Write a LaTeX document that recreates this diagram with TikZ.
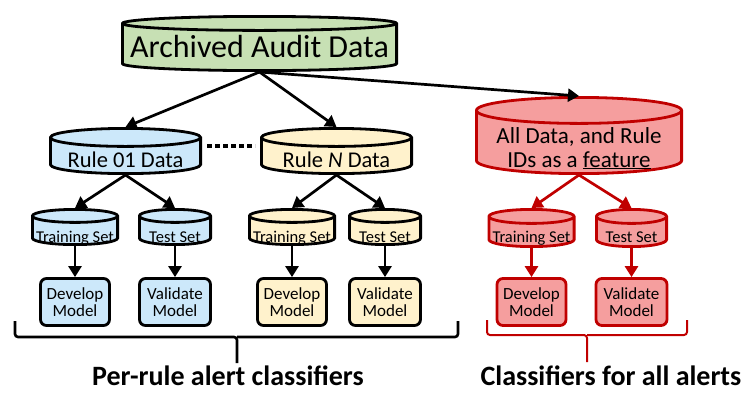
\documentclass[tikz,border=0pt]{standalone}
\usepackage{fontspec}
\setmainfont{Carlito}
\usetikzlibrary{arrows.meta}

\definecolor{greenF}{RGB}{199,224,180}
\definecolor{blueF}{RGB}{204,232,250}
\definecolor{yellowF}{RGB}{255,242,204}
\definecolor{redF}{RGB}{245,158,158}
\definecolor{redD}{RGB}{192,0,0}

% text sunk below the node centre, without changing the node size
\newcommand{\sunk}[2]{\raisebox{-#1}[0pt][0pt]{#2}}

\begin{document}
\begin{tikzpicture}[
        x=1pt, y=-1pt,
        >={Triangle[length=11pt, width=13pt]},
        line width=2.7pt,
        drum/.style n args={5}{rectangle, draw=none, inner sep=0pt, outer sep=0pt, minimum width=#1, minimum height=#2,
            path picture={
                \draw[line width=2.8pt, draw=#5, fill=#4]
                    ([xshift=1.4pt, yshift={-1.4pt-#3}]path picture bounding box.north west)
                    -- ([xshift=1.4pt, yshift={1.4pt+#3}]path picture bounding box.south west)
                    arc[start angle=180, end angle=360, x radius={#1/2-1.4pt}, y radius=#3]
                    -- ([xshift=-1.4pt, yshift={-1.4pt-#3}]path picture bounding box.north east)
                    arc[start angle=0, end angle=180, x radius={#1/2-1.4pt}, y radius=#3]
                    -- cycle
                    ([xshift=1.4pt, yshift={-1.4pt-#3}]path picture bounding box.north west)
                    arc[start angle=180, end angle=360, x radius={#1/2-1.4pt}, y radius=#3];
            }},
        dataset/.style={drum={153pt}{48pt}{9pt}{#1}{black}, font=\fontsize{22.5}{24}\selectfont},
        split/.style={font=\fontsize{16.5}{17}\selectfont},
        model/.style={draw, rounded corners=6pt, line width=2.8pt, align=center, minimum width=69pt, minimum height=47pt, inner sep=1pt, font=\fontsize{17}{17}\selectfont},
        caption/.style={font=\fontsize{28}{30}\selectfont\bfseries},
    ]
        \useasboundingbox (0,0) rectangle (756,416);

        % Draw the archive and the per-rule data
        \node[drum={277pt}{57pt}{7pt}{greenF}{black}, font=\fontsize{32}{34}\selectfont] (archive) at (259.5,43.5) {\sunk{13.5pt}{Archived Audit Data}};
        \node[dataset=blueF] (rule-1) at (125.5,151) {\sunk{16pt}{Rule 01 Data}};
        \node[dataset=yellowF] (rule-N) at (336.5,151) {\sunk{16pt}{Rule \textit{N} Data}};
        \node[drum={208pt}{79pt}{13pt}{redF}{redD}, font=\fontsize{23}{24}\selectfont] (rule-all) at (579,135.5)
            {\sunk{31.5pt}{\parbox[b]{200pt}{\centering All Data, and Rule\\IDs as a \underline{feature}}}};

        \draw[->] (archive.south) -- (rule-1.north);
        \draw[->] (archive.south) -- (rule-N.north);
        \draw[->] (archive.south) -- (rule-all.north);
        \draw[line width=4pt, dash pattern=on 5pt off 3pt, shorten <=5pt, shorten >=5pt] ([yshift=5pt]rule-1.east) -- ([yshift=5pt]rule-N.west);

        % Draw the sets and models of each rule
        \foreach \g/\xa/\xb/\col in {1/75/175/blueF, N/292/385/yellowF} {
            \node[split, drum={88pt}{38pt}{6.5pt}{\col}{black}] (train-\g) at (\xa,227) {\sunk{15pt}{Training Set}};
            \node[split, drum={74pt}{38pt}{6.5pt}{\col}{black}] (test-\g) at (\xb,227) {\sunk{15pt}{Test Set}};
            \node[model, fill=\col] (dev-\g) at (\xa,302) {Develop\\Model};
            \node[model, fill=\col, minimum width=71pt] (val-\g) at (\xb,302) {Validate\\Model};
            \draw[->] (rule-\g.south) -- (train-\g.north);
            \draw[->] (rule-\g.south) -- (test-\g.north);
            \draw[->] (train-\g.south) -- (dev-\g.north);
            \draw[->] (test-\g.south) -- (val-\g.north);
        }

        % Same for all alerts together
        \begin{scope}[draw=redD, color=redD]
            \node[split, drum={88pt}{40pt}{7pt}{redF}{redD}, text=black] (train-all) at (531.5,228) {\sunk{14pt}{Training Set}};
            \node[split, drum={73pt}{40pt}{7pt}{redF}{redD}, text=black] (test-all) at (631.5,228) {\sunk{14pt}{Test Set}};
            \node[model, fill=redF, draw=redD, text=black] (dev-all) at (531.5,302) {Develop\\Model};
            \node[model, fill=redF, draw=redD, minimum width=71pt, text=black] (val-all) at (631.5,302) {Validate\\Model};
            \draw[->] (rule-all.south) -- (train-all.north);
            \draw[->] (rule-all.south) -- (test-all.north);
            \draw[->] (train-all.south) -- (dev-all.north);
            \draw[->] (test-all.south) -- (val-all.north);
        \end{scope}

        % Braces and captions
        \draw[line width=2.6pt, rounded corners=3pt] (15,321) -- (15,337) -- (237,337) -- (237,363);
        \draw[line width=2.6pt, rounded corners=3pt] (458,321) -- (458,337) -- (237,337);
        \draw[line width=2pt, redD, rounded corners=3pt] (487,320) -- (487,335) -- (587,335) -- (587,362);
        \draw[line width=2pt, redD, rounded corners=3pt] (687,320) -- (687,335) -- (587,335);
        \node[caption] (cap-rule) at (228,376) {Per-rule alert classifiers};
        \node[caption] (cap-all) at (611,376) {Classifiers for all alerts};
\end{tikzpicture}
\end{document}
